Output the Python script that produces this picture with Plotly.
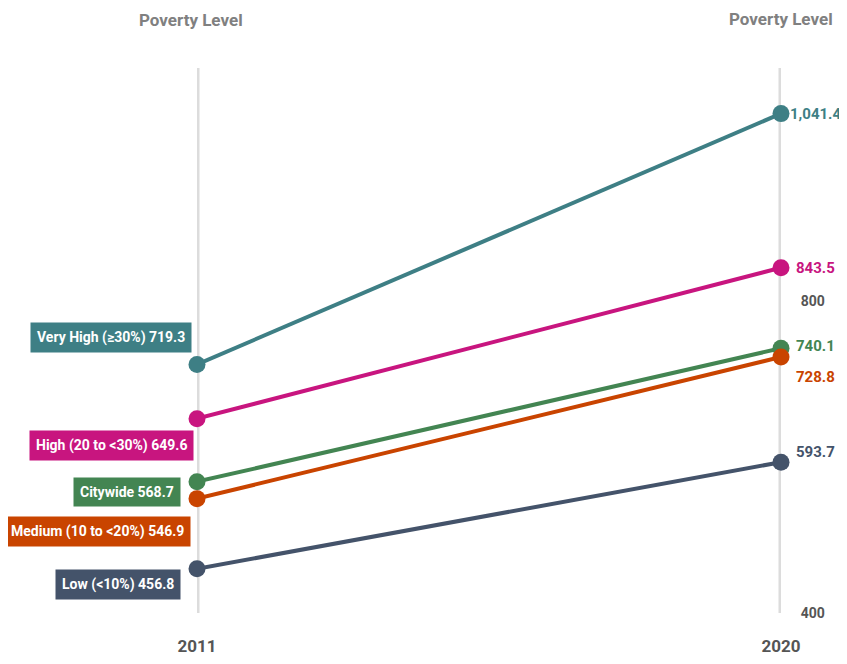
import plotly.graph_objects as go

years = [2011, 2020]
series_names = ["Very High (≥30%)", "High (20 to <30%)", "Citywide", "Medium (10 to <20%)", "Low (<10%)"]
values_2011 = [719.3, 649.6, 568.7, 546.9, 456.8]
values_2020 = [1041.4, 843.5, 740.1, 728.8, 593.7]
colors = ["#3e7f85", "#c8157f", "#438552", "#c94400", "#44536a"]
ytick_vals = [400, 800]
header = "Poverty Level"

FONT = "Roboto, sans-serif"

# label placement (pixel offsets)
left_yshift = [27, -27, -10, -33, -16]
left_xshift = [-5, -3, -16, -6, -16]
right_yshift = [0, 0, 2, -20, 10]
right_xshift = [7, 13, 13, 13, 13]

fig = go.Figure()

for xv in years:
    fig.add_shape(type="line", xref="x", yref="y", x0=xv, x1=xv, y0=400, y1=1100,
                  line=dict(color="#dcdcdc", width=5), layer="below")

for i, name in enumerate(series_names):
    fig.add_trace(go.Scatter(
        x=years, y=[values_2011[i], values_2020[i]],
        mode="lines+markers",
        line=dict(color=colors[i], width=4),
        marker=dict(color=colors[i], size=17),
        cliponaxis=False, showlegend=False, name=name,
        hoverinfo="skip"))

for i, name in enumerate(series_names):
    fig.add_annotation(
        x=years[0], y=values_2011[i], xref="x", yref="y",
        text=f"{name} {values_2011[i]:,.1f}",
        xanchor="right", yanchor="middle",
        xshift=left_xshift[i], yshift=left_yshift[i],
        showarrow=False, bgcolor=colors[i], borderpad=6,
        font=dict(family=FONT, size=14, color="white", weight="bold"))
    fig.add_annotation(
        x=years[1], y=values_2020[i], xref="x", yref="y",
        text=f"{values_2020[i]:,.1f}",
        xanchor="left", yanchor="middle",
        xshift=right_xshift[i], yshift=right_yshift[i],
        showarrow=False,
        font=dict(family=FONT, size=15, color=colors[i], weight="bold"))

fig.add_annotation(x=years[0], y=1, xref="x", yref="paper", text=header,
                   xanchor="center", yanchor="middle", xshift=-6, yshift=48,
                   showarrow=False,
                   font=dict(family=FONT, size=17, color="#808080", weight="bold"))
fig.add_annotation(x=years[1], y=1, xref="x", yref="paper", text=header,
                   xanchor="center", yanchor="middle", xshift=0, yshift=49,
                   showarrow=False,
                   font=dict(family=FONT, size=17, color="#808080", weight="bold"))

fig.update_layout(
    width=839, height=656,
    margin=dict(l=189, r=66, t=60, b=51, autoexpand=False),
    paper_bgcolor="white", plot_bgcolor="white",
    xaxis=dict(range=[2011, 2020], tickvals=years, ticktext=[str(y) for y in years],
               showgrid=False, zeroline=False, showline=False, automargin=False,
               ticks="outside", ticklen=18, tickcolor="rgba(0,0,0,0)",
               tickfont=dict(family=FONT, size=17, color="#555555", weight="bold")),
    yaxis=dict(range=[400, 1100], side="right", tickvals=ytick_vals,
               ticktext=[str(v) for v in ytick_vals],
               showgrid=False, zeroline=False, showline=False, automargin=False,
               ticks="outside", ticklen=16, tickcolor="rgba(0,0,0,0)",
               tickfont=dict(family=FONT, size=14, color="#555555", weight="bold")),
)

fig.write_html("out.html")
